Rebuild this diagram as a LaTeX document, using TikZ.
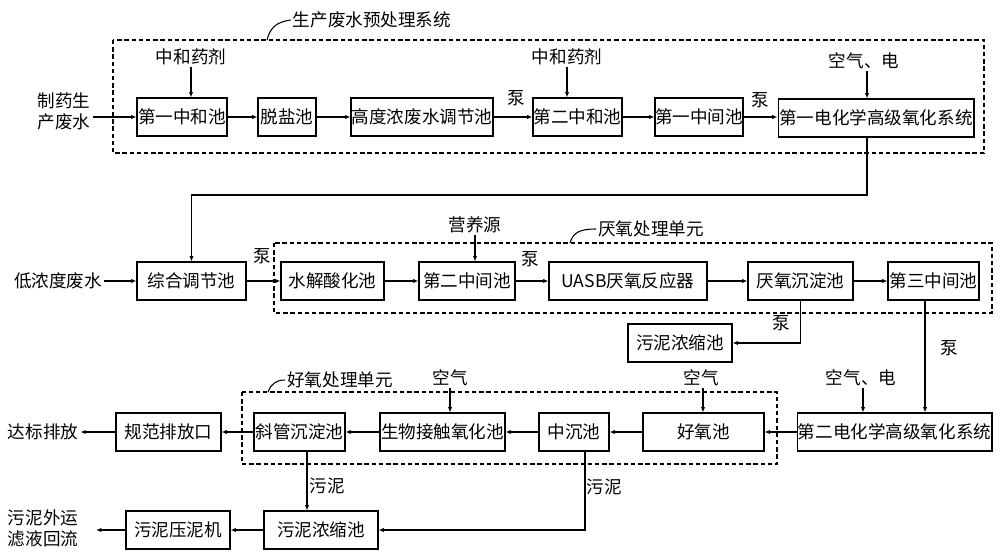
\documentclass[tikz,border=0pt]{standalone}
\usepackage{fontspec}
\setmainfont{Noto Sans CJK SC}
\usetikzlibrary{arrows.meta}

\begin{document}
\begin{tikzpicture}[x = 0.02cm, y = -0.02cm, line width = 0.6pt,
                        font = \fontsize{10pt}{12pt}\selectfont,
                        pool/.style = {draw, minimum height = 0.76cm, inner sep = 0pt},
                        flow/.style = {-{Latex[length = 3pt, width = 2.4pt]}},
                        unit/.style = {dash pattern = on 2.5pt off 1.6pt},
                        tag/.style = {inner sep = 1pt}]
      \useasboundingbox (0, 0) rectangle (1000, 557);

      \node [pool, minimum width = 1.80cm] (n1) at (182, 117){第一中和池};
      \node [pool, minimum width = 1.16cm] (n2) at (287, 117){脱盐池};
      \node [pool, minimum width = 2.84cm] (n3) at (422, 117){高度浓废水调节池};
      \node [pool, minimum width = 1.78cm] (n4) at (577.5, 117){第二中和池};
      \node [pool, minimum width = 1.76cm] (n5) at (699, 117){第一中间池};
      \node [pool, minimum width = 3.92cm] (n6) at (876, 118){第一电化学高级氧化系统};

      \node [pool, minimum width = 2.18cm] (m0) at (191.5, 281){综合调节池};
      \node [pool, minimum width = 2.06cm] (m1) at (332.5, 281){水解酸化池};
      \node [pool, minimum width = 1.92cm] (m2) at (467, 281){第二中间池};
      \node [pool, minimum width = 3.16cm] (m3) at (628, 281){UASB厌氧反应器};
      \node [pool, minimum width = 2.10cm] (m4) at (800.5, 281){厌氧沉淀池};
      \node [pool, minimum width = 1.82cm] (m5) at (933.5, 281){第三中间池};
      \node [pool, minimum width = 2.08cm] (m6) at (680, 343){污泥浓缩池};

      \node [pool, minimum width = 3.90cm] (k0) at (894.5, 432){第二电化学高级氧化系统};
      \node [pool, minimum width = 2.42cm] (k1) at (703.5, 432){好氧池};
      \node [pool, minimum width = 1.40cm] (k2) at (574, 432){中沉池};
      \node [pool, minimum width = 2.50cm] (k3) at (442.5, 432){生物接触氧化池};
      \node [pool, minimum width = 1.82cm] (k4) at (299.5, 432){斜管沉淀池};
      \node [pool, minimum width = 2.10cm] (k5) at (168.5, 432){规范排放口};

      \node [pool, minimum width = 2.28cm] (s0) at (321, 530){污泥浓缩池};
      \node [pool, minimum width = 2.08cm] (s1) at (178, 530){污泥压泥机};

      \node [tag, align = center] (t1) at (64, 111){制药生\\产废水};
      \node [tag] (l2) at (58, 281){低浓度废水};
      \node [tag] (l3) at (43, 432){达标排放};
      \node [tag, align = center] (l4) at (43, 528){污泥外运\\滤液回流};

      \node [tag] (r1) at (191, 57){中和药剂};
      \node [tag] (r2) at (567, 57){中和药剂};
      \node [tag] (r3) at (864, 61){空气、电};
      \node [tag] (r4) at (475, 225){营养源};
      \node [tag] (r5) at (450, 378){空气};
      \node [tag] (r6) at (701, 378){空气};
      \node [tag] (r7) at (861, 378){空气、电};

      \node [tag] (p1) at (516, 98){泵};
      \node [tag] (p2) at (760, 100){泵};
      \node [tag] (p3) at (262, 256){泵};
      \node [tag] (p4) at (530, 259){泵};
      \node [tag] (p5) at (781, 323){泵};
      \node [tag] (p6) at (949, 348){泵};
      \node [tag] (w1) at (327, 486){污泥};
      \node [tag] (w2) at (604, 487){污泥};

      \node [tag] (g1) at (372, 20){生产废水预处理系统};
      \node [tag] (g2) at (651, 229){厌氧处理单元};
      \node [tag] (g3) at (340, 380){好氧处理单元};

      \coordinate (b1) at (867, 195);
      \coordinate (c3) at (925, 0);
      \coordinate (c4) at (307, 0);
      \coordinate (c5) at (585, 0);
      \coordinate (c6) at (703, 0);
      \coordinate (c7) at (863, 0);
      \coordinate (e1) at (96, 530);

      \draw [unit] (113, 40) rectangle (984, 153);
      \draw [unit] (274, 243) rectangle (992, 313);
      \draw [unit] (242, 392) rectangle (777, 464);
      \draw (267, 40) .. controls (270, 28) and (276, 22) .. (g1.west);
      \draw (570, 243) .. controls (573, 233) and (579, 229) .. (g2.west);
      \draw (268, 392) .. controls (271, 384) and (276, 380) .. (g3.west);

      \draw [flow] (t1.east |- n1) -- (n1);
      \draw [flow] (n1) -- (n2);
      \draw [flow] (n2) -- (n3);
      \draw [flow] (n3) -- (n4);
      \draw [flow] (n4) -- (n5);
      \draw [flow] (n5) -- (n6.west |- n5);
      \draw [flow] (r1.south) -- (r1.south |- n1.north);
      \draw [flow] (r2.south) -- (r2.south |- n4.north);
      \draw [flow] (r3.south -| b1) -- (n6.north -| b1);
      \draw [flow] (n6.south -| b1) -- (b1) -| (m0.north);

      \draw [flow] (l2) -- (m0);
      \draw [flow] (m0) -- (m1);
      \draw [flow] (m1) -- (m2);
      \draw [flow] (m2) -- (m3);
      \draw [flow] (m3) -- (m4);
      \draw [flow] (m4) -- (m5);
      \draw [flow] (r4.south) -- (r4.south |- m2.north);
      \draw [flow] (m4.south) |- (m6);
      \draw [flow] (m5.south -| c3) -- (k0.north -| c3);

      \draw [flow] (r7.south -| c7) -- (k0.north -| c7);
      \draw [flow] (r6.south -| c6) -- (k1.north -| c6);
      \draw [flow] (r5.south) -- (r5.south |- k3.north);
      \draw [flow] (k0) -- (k1);
      \draw [flow] (k1) -- (k2);
      \draw [flow] (k2) -- (k3);
      \draw [flow] (k3) -- (k4);
      \draw [flow] (k4) -- (k5);
      \draw [flow] (k5) -- (l3);
      \draw [flow] (k4.south -| c4) -- (s0.north -| c4);
      \draw [flow] (k2.south -| c5) |- (s0);
      \draw [flow] (s0) -- (s1);
      \draw [flow] (s1) -- (e1);
      \end{tikzpicture}
\end{document}
